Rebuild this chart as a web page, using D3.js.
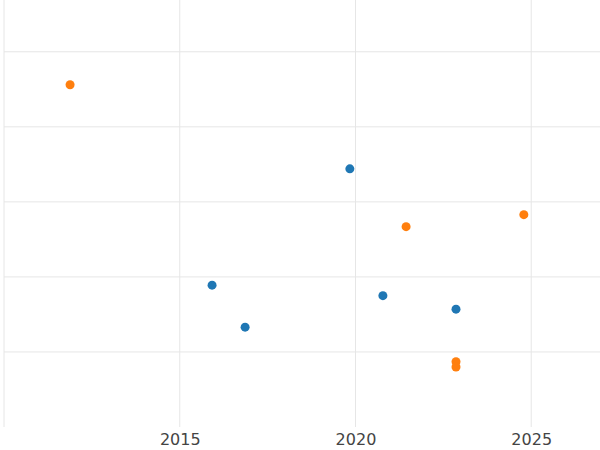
<!DOCTYPE html>
<html><head><meta charset="utf-8">
<script src="https://cdn.jsdelivr.net/npm/d3@7"></script>
<style>body{margin:0;background:#fff}</style>
</head><body>
<svg id="chart" width="600" height="450"></svg>
<script>
var orangeYears = [2011.88, 2021.44, 2024.79, 2022.86, 2022.86];
var orangeVals  = [4.56, 2.67, 2.83, 0.87, 0.80];
var blueYears   = [2019.84, 2015.92, 2016.86, 2020.78, 2022.86];
var blueVals    = [3.44, 1.89, 1.33, 1.75, 1.57];
var xTicks = [2010, 2015, 2020, 2025];
var yTicks = [0, 1, 2, 3, 4, 5];

var svg = d3.select("#chart");
var x = d3.scaleLinear().domain([2010, 2026.9]).range([4, 598]);
var y = d3.scaleLinear().domain([0, 5.69]).range([427, 0]);

svg.append("g").selectAll("line").data(xTicks).join("line")
  .attr("x1", d => x(d)).attr("x2", d => x(d)).attr("y1", 0).attr("y2", 427)
  .attr("stroke", "#e6e6e6");
svg.append("g").selectAll("line").data(yTicks.slice(1)).join("line")
  .attr("x1", 4).attr("x2", 600).attr("y1", d => y(d)).attr("y2", d => y(d))
  .attr("stroke", "#e6e6e6");

svg.append("g").attr("transform", "translate(0,427)")
  .call(d3.axisBottom(x).tickValues(xTicks.slice(1)).tickFormat(d3.format("d")).tickSize(0).tickPadding(7))
  .call(g => g.select(".domain").remove())
  .selectAll("text").attr("font-family", "DejaVu Sans").attr("font-size", 16).attr("fill", "#444");

function dots(xs, vs, color) {
  svg.append("g").selectAll("circle").data(xs).join("circle")
    .attr("cx", d => x(d)).attr("cy", (d, i) => y(vs[i])).attr("r", 4.5)
    .attr("fill", color);
}
dots(blueYears, blueVals, "#1f77b4");
dots(orangeYears, orangeVals, "#ff7f0e");
</script>
</body></html>
